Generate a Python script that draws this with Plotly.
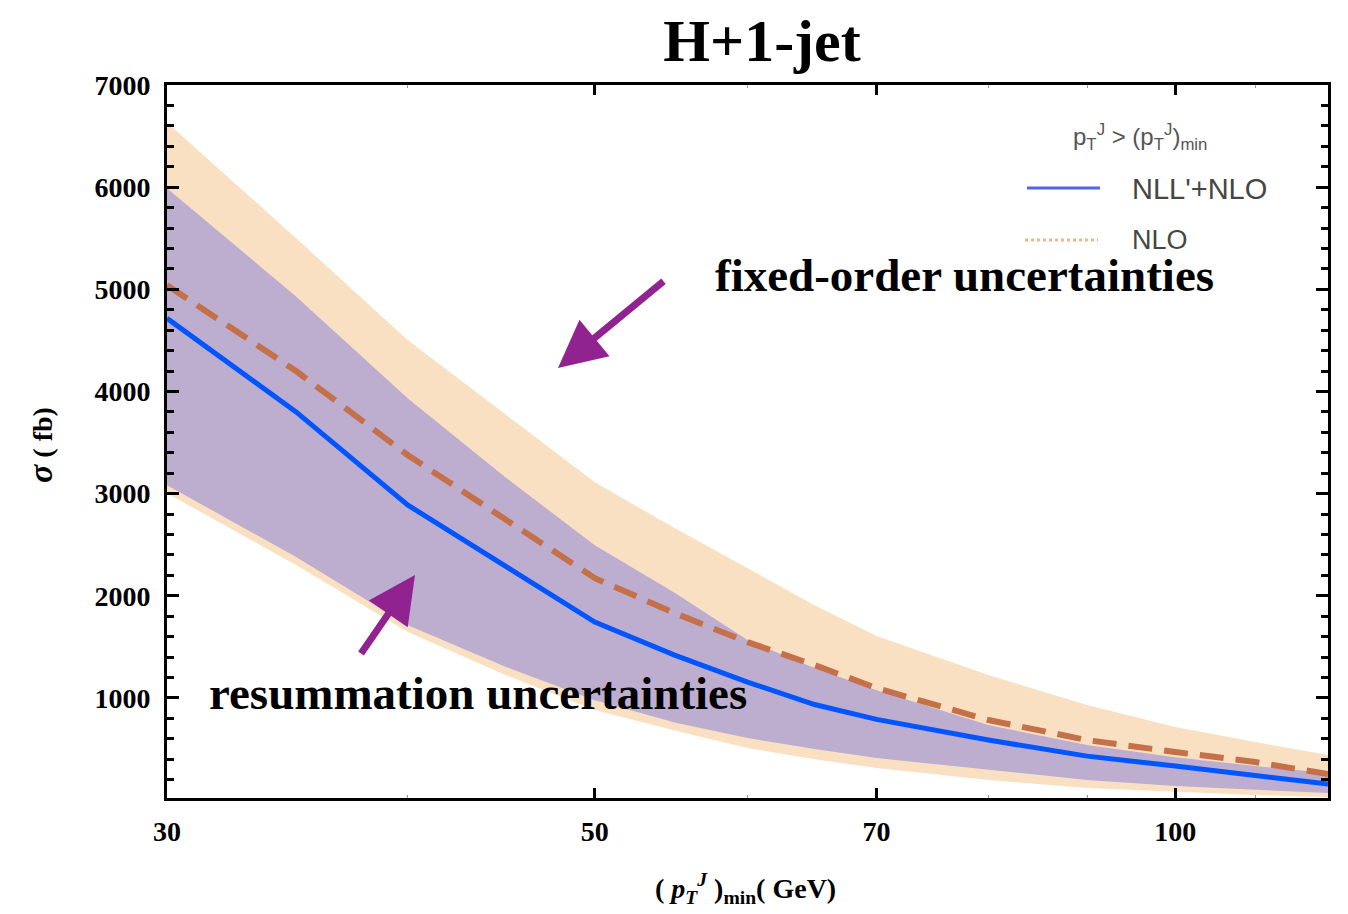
import math
import plotly.graph_objects as go

# Minimum jet transverse momentum (GeV)
pt_min = [30, 35, 40, 45, 50, 55, 60, 65, 70, 80, 90, 100, 110, 120]

# Cross sections (fb)
nll_nlo = [4716, 3800, 2887, 2280, 1742, 1419, 1155, 935, 790, 587, 430, 333, 245, 157]
nlo = [5040, 4200, 3376, 2740, 2172, 1830, 1546, 1321, 1096, 783, 587, 470, 372, 254]

# Fixed-order (scale) uncertainty band
fo_lo = [3004, 2300, 1644, 1220, 881, 680, 509, 400, 313, 196, 117, 78, 49, 29]
fo_hi = [6634, 5500, 4501, 3767, 3112, 2662, 2270, 1908, 1605, 1223, 930, 714, 568, 440]

# Resummation uncertainty band
rs_lo = [3082, 2380, 1712, 1300, 978, 760, 607, 500, 411, 294, 196, 137, 98, 68]
rs_hi = [5990, 4930, 3930, 3150, 2495, 2030, 1566, 1292, 1076, 734, 538, 420, 333, 265]

y_ticks = [1000, 2000, 3000, 4000, 5000, 6000, 7000]
x_ticks = [30, 50, 70, 100]
x_minor = [40, 60, 80, 90, 110]

SERIF = "Liberation Serif"
SANS = "Liberation Sans"

ORANGE_FILL = "rgb(250,224,194)"
PURPLE_FILL = "rgb(189,174,208)"
BLUE = "rgb(0,85,255)"
NLO_IN = "rgb(196,112,72)"
NLO_OUT = "rgb(240,146,58)"

fig = go.Figure()

# fixed-order band
fig.add_trace(go.Scatter(x=pt_min, y=fo_lo, mode="lines", line=dict(width=0),
                         showlegend=False, hoverinfo="skip"))
fig.add_trace(go.Scatter(x=pt_min, y=fo_hi, mode="lines", line=dict(width=0),
                         fill="tonexty", fillcolor=ORANGE_FILL,
                         showlegend=False, hoverinfo="skip"))

# resummation band
fig.add_trace(go.Scatter(x=pt_min, y=rs_lo, mode="lines", line=dict(width=0),
                         showlegend=False, hoverinfo="skip"))
fig.add_trace(go.Scatter(x=pt_min, y=rs_hi, mode="lines", line=dict(width=0),
                         fill="tonexty", fillcolor=PURPLE_FILL,
                         showlegend=False, hoverinfo="skip"))

# NLO curve: darker where it runs inside the resummation band
split = max(i for i in range(len(pt_min)) if nlo[i] <= rs_hi[i])
dash = "24px,12px"
fig.add_trace(go.Scatter(x=pt_min[:split + 1], y=nlo[:split + 1], mode="lines",
                         line=dict(color=NLO_IN, width=6, dash=dash),
                         showlegend=False, hoverinfo="skip"))
fig.add_trace(go.Scatter(x=pt_min[split:], y=nlo[split:], mode="lines",
                         line=dict(color=NLO_OUT, width=6, dash=dash),
                         showlegend=False, hoverinfo="skip"))

# NLL'+NLO curve
fig.add_trace(go.Scatter(x=pt_min, y=nll_nlo, mode="lines",
                         line=dict(color=BLUE, width=5),
                         showlegend=False, hoverinfo="skip"))

L, R, T, B = 167, 20, 85, 116
W, H = 1348, 914
pw, ph = W - L - R, H - T - B


def px(xp):
    return (xp - L) / pw


def py(yp):
    return (H - B - yp) / ph


ann = []
# legend
ann.append(dict(x=px(1140), y=py(137), xref="paper", yref="paper", showarrow=False,
                text="p<sub>T</sub><sup>J</sup> > (p<sub>T</sub><sup>J</sup>)<sub>min</sub>",
                font=dict(family=SANS, size=24, color="#555555"),
                xanchor="center", yanchor="middle"))
ann.append(dict(x=px(1130), y=py(189), xref="paper", yref="paper", showarrow=False,
                text="NLL'+NLO", font=dict(family=SANS, size=29, color="#454545"),
                xanchor="left", yanchor="middle"))
ann.append(dict(x=px(1130), y=py(240), xref="paper", yref="paper", showarrow=False,
                text="NLO", font=dict(family=SANS, size=27, color="#454545"),
                xanchor="left", yanchor="middle"))

# callouts
ann.append(dict(x=px(713), y=py(275), xref="paper", yref="paper", showarrow=False,
                text="<b>fixed-order uncertainties</b>",
                font=dict(family=SERIF, size=47, color="black"),
                xanchor="left", yanchor="middle"))
ann.append(dict(x=px(207), y=py(693), xref="paper", yref="paper", showarrow=False,
                text="<b>resummation uncertainties</b>",
                font=dict(family=SERIF, size=47, color="black"),
                xanchor="left", yanchor="middle"))
ann.append(dict(x=px(558), y=py(368), xref="paper", yref="paper", showarrow=True,
                ax=107, ay=-88, arrowhead=2, arrowsize=1.35, arrowwidth=7,
                arrowcolor="rgb(145,35,145)", text=""))
ann.append(dict(x=px(415), y=py(575), xref="paper", yref="paper", showarrow=True,
                ax=-55, ay=80, arrowhead=2, arrowsize=1.35, arrowwidth=7,
                arrowcolor="rgb(145,35,145)", text=""))

# axis titles
ann.append(dict(x=px(40), y=py(445), xref="paper", yref="paper", showarrow=False,
                text="<b><i><span style='font-size:34px'>σ</span></i></b><b> ( fb)</b>",
                textangle=-90,
                font=dict(family=SERIF, size=28, color="black"),
                xanchor="center", yanchor="middle"))
ann.append(dict(x=px(745), y=py(888), xref="paper", yref="paper", showarrow=False,
                text="<b>( <i>p</i><sub><i>T</i></sub><sup><i>J</i></sup> )<sub>min</sub>( GeV)</b>",
                font=dict(family=SERIF, size=28, color="black"),
                xanchor="center", yanchor="middle"))

shapes = [
    dict(type="line", xref="paper", yref="paper", x0=px(1027), x1=px(1100),
         y0=py(188), y1=py(188), line=dict(color="rgb(80,100,240)", width=3)),
    dict(type="line", xref="paper", yref="paper", x0=px(1025), x1=px(1098),
         y0=py(240), y1=py(240), line=dict(color="rgb(246,180,145)", width=3, dash="dot")),
]

fig.update_layout(
    width=W, height=H,
    margin=dict(l=L, r=R, t=T, b=B),
    paper_bgcolor="white", plot_bgcolor="white",
    title=dict(text="<b>H+1-jet</b>", x=762 / W, xanchor="center",
               y=1 - 40 / H, yanchor="middle",
               font=dict(family=SERIF, size=60, color="black")),
    xaxis=dict(type="log", range=[math.log10(30), math.log10(120)],
               tickvals=x_ticks, ticktext=[str(v) for v in x_ticks],
               ticks="inside", ticklen=10, tickwidth=3, tickcolor="black",
               showline=True, linecolor="black", linewidth=3, mirror="ticks",
               showgrid=False, zeroline=False,
               tickfont=dict(family=SERIF, size=28, color="black", weight="bold"),
               ticklabelstandoff=6,
               minor=dict(tickvals=x_minor, ticks="inside", ticklen=3, tickwidth=1,
                          tickcolor="#999999", showgrid=False)),
    yaxis=dict(range=[20, 7000], tickvals=y_ticks,
               ticks="inside", ticklen=12, tickwidth=3, tickcolor="black",
               showline=True, linecolor="black", linewidth=3, mirror="ticks",
               showgrid=False, zeroline=False,
               tickfont=dict(family=SERIF, size=28, color="black", weight="bold"),
               ticklabelstandoff=8,
               minor=dict(dtick=200, tick0=0, ticks="inside", ticklen=7, tickwidth=2.5,
                          tickcolor="black", showgrid=False)),
    annotations=ann,
    shapes=shapes,
    showlegend=False,
)

fig.write_html("out.html")
